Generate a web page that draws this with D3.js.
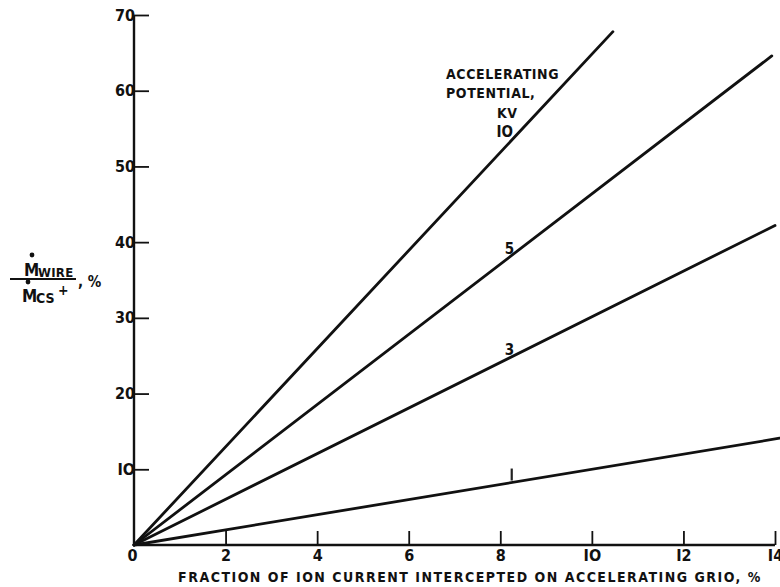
<!DOCTYPE html>
<html><head><meta charset="utf-8">
<script src="https://cdn.jsdelivr.net/npm/d3@7"></script>
<style>
body{margin:0;background:#fff;}
text{font-family:"DejaVu Sans Condensed","DejaVu Sans",sans-serif;fill:#111;font-weight:bold;}
</style></head>
<body><svg id="c" width="780" height="587"></svg>
<script>
const xTicks = [0,2,4,6,8,10,12,14];
const yTicks = [0,10,20,30,40,50,60,70];
const seriesKV = ["1","3","5","10"];
const seriesX = [[0,14.1],[0,14.0],[0,13.93],[0,10.46]];
const seriesY = [[0,14.1],[0,42.2],[0,64.6],[0,67.8]];
const labelX = [8.25,8.2,8.2,8.3];

const svg = d3.select("#c");
const x = d3.scaleLinear().domain([0,14]).range([134,775]);
const y = d3.scaleLinear().domain([0,70]).range([545,15]);
const FF = "DejaVu Sans Condensed, DejaVu Sans, sans-serif";

// axes lines
svg.append("line").attr("x1",x(0)).attr("x2",x(0)).attr("y1",y(0)).attr("y2",y(70)).attr("stroke","#111").attr("stroke-width",2.4);
svg.append("line").attr("x1",x(0)).attr("x2",x(14)).attr("y1",y(0)).attr("y2",y(0)).attr("stroke","#111").attr("stroke-width",2.4);

const xa = d3.axisBottom(x).tickValues(xTicks).tickSize(-14).tickPadding(19).tickFormat(d=>d===10?"IO":d===12?"I2":d===14?"I4":String(d));
const gx = svg.append("g").attr("transform",`translate(0,${y(0)})`).call(xa);
gx.select(".domain").remove();
gx.selectAll(".tick line").attr("stroke","#111").attr("stroke-width",1.8).filter(d=>d===0).remove();
gx.selectAll(".tick text").attr("font-size",16).attr("dy","-0.2em").style("font-family",FF).style("font-weight","bold").attr("fill","#111");
gx.selectAll(".tick text").filter(d=>d===0).attr("dx",-2);

const ya = d3.axisLeft(y).tickValues(yTicks).tickSize(-15).tickPadding(-1).tickFormat(d=>d===10?"IO":String(d));
const gy = svg.append("g").attr("transform",`translate(${x(0)},0)`).call(ya);
gy.select(".domain").remove();
gy.selectAll(".tick line").attr("stroke","#111").attr("stroke-width",1.8).filter(d=>d===0).remove();
gy.selectAll(".tick text").attr("font-size",16).style("font-family",FF).style("font-weight","bold").attr("fill","#111");
gy.selectAll(".tick text").filter(d=>d===0).remove();

// series lines
const line = d3.line().x(d=>x(d[0])).y(d=>y(d[1]));
seriesKV.forEach((k,i)=>{
  const pts = seriesX[i].map((v,j)=>[v,seriesY[i][j]]);
  svg.append("path").attr("d",line(pts)).attr("fill","none").attr("stroke","#111").attr("stroke-width",2.8).attr("stroke-linecap","round");
  const slope = seriesY[i][1]/seriesX[i][1];
  const lx = labelX[i];
  const px = x(lx), py = y(lx*slope);
  if(k==="1"){
    svg.append("line").attr("x1",px).attr("x2",px).attr("y1",py-2).attr("y2",py-14).attr("stroke","#222").attr("stroke-width",2.2);
  } else if(k==="10"){
    svg.append("text").attr("x",px-1).attr("y",py-1).attr("text-anchor","end").attr("font-size",15).text("IO");
  } else {
    svg.append("text").attr("x",px).attr("y",py-3).attr("text-anchor","middle").attr("font-size",15).text(k);
  }
});

// annotation
const ann = svg.append("g").attr("font-size",14).attr("letter-spacing",0.6);
ann.append("text").attr("x",446).attr("y",79).text("ACCELERATING");
ann.append("text").attr("x",446).attr("y",98).text("POTENTIAL,");
ann.append("text").attr("x",497).attr("y",118).text("KV");

// x title
svg.append("text").attr("x",470).attr("y",582).attr("text-anchor","middle").attr("font-size",14).attr("letter-spacing",1.5).text("FRACTION OF ION CURRENT INTERCEPTED ON ACCELERATING GRIO, %");

// y label
const yl = svg.append("g");
yl.append("line").attr("x1",10).attr("x2",76).attr("y1",279).attr("y2",279).attr("stroke","#111").attr("stroke-width",2);
yl.append("text").attr("x",24).attr("y",276).attr("font-size",17).text("M");
yl.append("text").attr("x",38).attr("y",277).attr("font-size",13).attr("letter-spacing",0.3).text("WIRE");
yl.append("circle").attr("cx",32).attr("cy",255).attr("r",2.4).attr("fill","#111");
yl.append("text").attr("x",22).attr("y",302).attr("font-size",17).text("M");
yl.append("text").attr("x",36).attr("y",303).attr("font-size",14).text("CS");
yl.append("text").attr("x",58).attr("y",295).attr("font-size",14).text("+");
yl.append("circle").attr("cx",28).attr("cy",282).attr("r",2.4).attr("fill","#111");
yl.append("text").attr("x",78).attr("y",287).attr("font-size",15).text(", %");
</script></body></html>
